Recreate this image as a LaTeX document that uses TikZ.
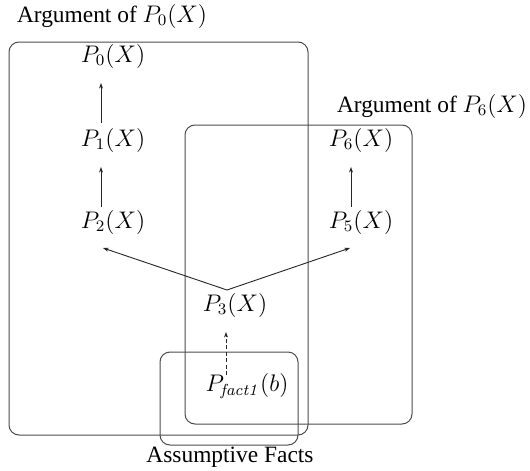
\documentclass[tikz,border=0pt]{standalone}
\usepackage[no-math]{fontspec}
\setmainfont{Liberation Serif}
\usetikzlibrary{arrows.meta}
\begin{document}
\begin{tikzpicture}[x=0.5pt,y=-0.5pt,
  lbl/.style={inner sep=0pt,font=\fontsize{11.7}{14}\selectfont},
  frame/.style={draw=black!70,line width=0.5pt,rounded corners=5pt},
  arr/.style={draw=black!85,line width=0.45pt,-{Stealth[length=2.8pt,width=2pt]}}]
\useasboundingbox (0,0) rectangle (530,471);
% frames
\draw[frame] (9,42) rectangle (308,435);
\draw[frame] (185,125) rectangle (412,424);
\draw[frame] (160,352) rectangle (298,445);
% labels
\node[lbl] (lab0) at (112,16) {Argument of $P_0(X)$};
\node[lbl] (lab6) at (432,106) {Argument of $P_6(X)$};
\node[lbl] (labA) at (230,457) {Assumptive Facts};
% nodes
\node[lbl] (p0) at (113,56) {$P_0(X)$};
\node[lbl] (p1) at (113,140) {$P_1(X)$};
\node[lbl] (p2) at (113,222) {$P_2(X)$};
\node[lbl] (p6) at (361,140) {$P_6(X)$};
\node[lbl] (p5) at (361,222) {$P_5(X)$};
\node[lbl] (p3) at (235,305) {$P_3(X)$};
\node[lbl] (pf) at (247,386) {$P_{\mathit{fact1}}(b)$};
% connector points
\coordinate (t0) at (101,83);
\coordinate (b1) at (101,123);
\coordinate (t1) at (101,167);
\coordinate (b2) at (101,207);
\coordinate (t6) at (351,167);
\coordinate (b5) at (351,207);
\coordinate (a3) at (227,290);
\coordinate (e2) at (103,248);
\coordinate (e5) at (350,248);
\coordinate (tf) at (226,332);
\coordinate (bf) at (226,375);
% connectors
\draw[arr] (b1) -- (t0);
\draw[arr] (b2) -- (t1);
\draw[arr] (b5) -- (t6);
\draw[arr] (a3) -- (e2);
\draw[arr] (a3) -- (e5);
\draw[arr,dashed,dash pattern=on 2pt off 1.2pt] (bf) -- (tf);
\end{tikzpicture}
\end{document}
